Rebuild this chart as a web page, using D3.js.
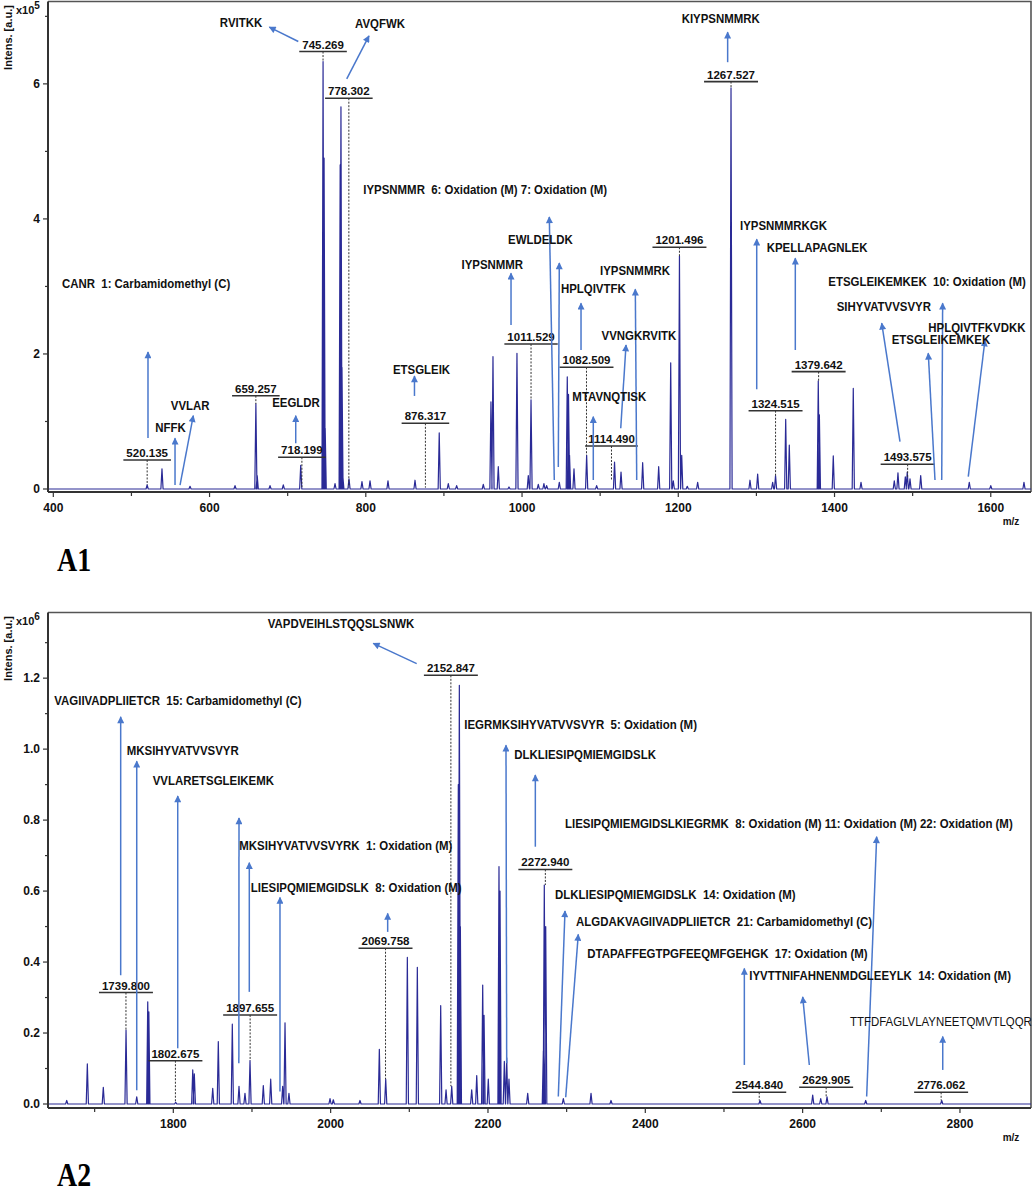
<!DOCTYPE html>
<html><head><meta charset="utf-8">
<script src="https://cdn.jsdelivr.net/npm/d3@7"></script>
<style>
body{margin:0;background:#fff}
svg text{font-family:"Liberation Sans",Arial,sans-serif}
svg text.letter{font-family:"Liberation Serif","Times New Roman",serif}
.ann{white-space:pre}
</style>
</head><body>
<svg id="c" width="1034" height="1194"></svg>
<script>
// ---------------- DATA: panel A1 (intensity x10^5) ----------------
const peaksA1 = [[520.1,0.06],[539.1,0.30],[575,0.04],[632.6,0.05],[659.3,1.26],[661,0.2],[677.4,0.05],[694.4,0.06],[716.7,0.35],[745.3,6.33],[746.6,4.9],[748,0.9],[760.6,0.08],[767.2,4.8],[768.2,5.66],[769.5,1.8],[770.6,0.19],[778.5,0.15],[795.1,0.11],[805.4,0.12],[828.4,0.12],[863,0.13],[894,0.83],[905.6,0.08],[916.3,0.05],[950.4,0.07],[960.2,1.29],[962.8,1.96],[969.6,0.33],[983.3,0.03],[993.5,2.01],[1008,0.2],[1011.5,1.32],[1020.8,0.07],[1028,0.08],[1031.5,0.05],[1047.7,0.1],[1057.9,1.66],[1059.5,1.4],[1060.8,0.5],[1066.5,0.3],[1082.7,0.5],[1095.5,0.05],[1118.4,0.4],[1126.7,0.25],[1154.4,0.39],[1174.9,0.33],[1190.3,1.87],[1193.6,0.12],[1201.5,3.45],[1204.4,0.5],[1211.5,0.04],[1224.8,0.1],[1267.5,5.94],[1291.8,0.13],[1301.6,0.22],[1320.8,0.1],[1324.5,0.2],[1337.5,1.03],[1342.1,0.65],[1379.2,1.6],[1380.6,1.1],[1398.4,0.49],[1424,1.49],[1433.9,0.1],[1476.5,0.12],[1481.2,0.24],[1490.6,0.18],[1493.1,0.25],[1496.6,0.15],[1510.3,0.2],[1572.5,0.1],[1600,0.05],[1642.5,0.1]];
// [text, m/z, bar intensity, peak intensity]
const massLabelsA1 = [["520.135",520.135,0.43,0.06],["659.257",659.257,1.382,1.26],["718.199",718.199,0.47,0.03],["745.269",745.269,6.479,6.33],["778.302",778.302,5.788,0.02],["876.317",876.317,0.973,0.02],["1011.529",1011.529,2.148,1.32],["1082.509",1082.509,1.803,0.5],["1114.490",1114.490,0.637,0.13],["1201.496",1201.496,3.581,3.45],["1267.527",1267.527,6.034,5.94],["1324.515",1324.515,1.16,0.2],["1379.642",1379.642,1.738,1.6],["1493.575",1493.575,0.366,0.18]];
// [peptide text, m/z, intensity, anchor]
const peptidesA1 = [["CANR  1: Carbamidomethyl (C)",518.7,3.05,"middle"],["NFFK",550,0.908,"middle"],["VVLAR",575.2,1.234,"middle"],["EEGLDR",710.7,1.284,"middle"],["RVITKK",640.3,6.908,"middle"],["AVQFWK",818.2,6.889,"middle"],["IYPSNMMR  6: Oxidation (M) 7: Oxidation (M)",796.8,4.43,"start"],["ETSGLEIK",871.3,1.778,"middle"],["IYPSNMMR",961.9,3.319,"middle"],["EWLDELDK",1023.6,3.689,"middle"],["HPLQIVTFK",1091.2,2.973,"middle"],["IYPSNMMRK",1144.6,3.244,"middle"],["VVNGKRVITK",1149.7,2.281,"middle"],["MTAVNQTISK",1111.7,1.367,"middle"],["KIYPSNMMRK",1254.3,6.963,"middle"],["IYPSNMMRKGK",1279,3.907,"start"],["KPELLAPAGNLEK",1313.2,3.581,"start"],["ETSGLEIKEMKEK  10: Oxidation (M)",1392,3.081,"start"],["SIHYVATVVSVYR",1402.8,2.711,"start"],["HPLQIVTFKVDKK",1520,2.396,"start"],["ETSGLEIKEMKEK",1473.2,2.218,"start"]];
// [tail m/z, tail I, head m/z, head I]
const arrowsA1 = [[521.2,0.756,521.2,2.03],[555.8,0.059,555.8,0.751],[562.2,0.059,579.2,1.086],[710.3,0.677,710.3,1.086],[713.6,6.627,676.5,6.84],[775.6,6.074,804.1,6.711],[1041.3,0.133,1034.9,4.03],[862.3,1.378,862.3,1.674],[985.9,2.43,985.9,3.196],[1046.4,0.326,1047.7,3.348],[1075.5,2.059,1075.5,2.751],[1146.8,0.133,1145,2.959],[1126.3,0.899,1133.1,2.133],[1091.2,0.133,1091.2,1.071],[1263.2,6.321,1263.2,6.766],[1300.4,1.477,1300.4,3.699],[1349.8,2.059,1349.8,3.418],[1537.2,0.133,1538.4,2.751],[1483.8,0.701,1460.4,2.455],[1571.2,0.182,1592.6,2.207],[1528.6,0.133,1520,2.01]];
const xTicksA1 = [400,600,800,1000,1200,1400,1600];
const xMinorA1 = [500,700,900,1100,1300,1500];
const yTicksA1 = [0,2,4,6];
const yMinorA1 = [1,3,5,7];

// ---------------- DATA: panel A2 (intensity x10^6) ----------------
const peaksA2 = [[1664.5,0.01],[1690.7,0.113],[1711,0.047],[1739.9,0.208],[1753.5,0.02],[1767.5,0.288],[1768.9,0.26],[1803,0.005],[1824.7,0.096],[1826.7,0.085],[1850.1,0.044],[1857.2,0.176],[1875,0.225],[1883.5,0.05],[1891.1,0.03],[1897.5,0.122],[1914.4,0.052],[1923.8,0.07],[1939,0.05],[1942,0.229],[1947,0.03],[1999.2,0.015],[2003.4,0.012],[2037.3,0.01],[2061.9,0.154],[2070,0.07],[2097.5,0.413],[2110.2,0.385],[2139.9,0.277],[2146.7,0.04],[2153.9,0.05],[2162.3,0.9],[2163.6,1.18],[2164.9,0.5],[2179.3,0.04],[2185.7,0.08],[2193.3,0.335],[2195,0.25],[2200.4,0.07],[2214,0.669],[2215.3,0.6],[2220.8,0.12],[2223.8,0.13],[2226.7,0.07],[2250.5,0.03],[2270.4,0.15],[2271.6,0.617],[2273.4,0.5],[2295.8,0.015],[2331,0.03],[2356.4,0.01],[2545.8,0.01],[2612.8,0.025],[2623,0.015],[2631,0.02],[2680.2,0.01],[2776.8,0.01]];
const massLabelsA2 = [["1739.800",1739.8,0.314,0.208],["1802.675",1802.675,0.122,0.005],["1897.655",1897.655,0.251,0.122],["2069.758",2069.758,0.439,0.07],["2152.847",2152.847,1.208,0.05],["2272.940",2272.94,0.661,0.617],["2544.840",2544.84,0.033,0.01],["2629.905",2629.905,0.047,0.02],["2776.062",2776.062,0.033,0.01]];
const peptidesA2 = [["VAPDVEIHLSTQQSLSNWK",2013.2,1.354,"middle"],["VAGIIVADPLIIETCR  15: Carbamidomethyl (C)",1648.7,1.138,"start"],["MKSIHYVATVVSVYR",1740.8,0.997,"start"],["VVLARETSGLEIKEMK",1773.8,0.913,"start"],["MKSIHYVATVVSVYRK  1: Oxidation (M)",1883.9,0.728,"start"],["LIESIPQMIEMGIDSLK  8: Oxidation (M)",1898.4,0.609,"start"],["IEGRMKSIHYVATVVSVYR  5: Oxidation (M)",2169.9,1.07,"start"],["DLKLIESIPQMIEMGIDSLK",2233.5,0.986,"start"],["LIESIPQMIEMGIDSLKIEGRMK  8: Oxidation (M) 11: Oxidation (M) 22: Oxidation (M)",2297.9,0.791,"start"],["DLKLIESIPQMIEMGIDSLK  14: Oxidation (M)",2285.2,0.591,"start"],["ALGDAKVAGIIVADPLIIETCR  21: Carbamidomethyl (C)",2311.9,0.514,"start"],["DTAPAFFEGTPGFEEQMFGEHGK  17: Oxidation (M)",2326.3,0.425,"start"],["IYVTTNIFAHNENMDGLEEYLK  14: Oxidation (M)",2532.2,0.363,"start"],["TTFDFAGLVLAYNEETQMVTLQQR",2660.2,0.232,"start"]];
const arrowsA2 = [[2109.4,1.241,2054.2,1.298],[1733.1,0.363,1733.1,1.091],[1753.5,0.039,1753.5,0.966],[1805.6,0.157,1805.6,0.868],[1883.3,0.115,1883.5,0.806],[1896.6,0.316,1896.6,0.68],[1935.6,0.035,1935.6,0.582],[2072.5,0.485,2072.5,0.537],[2223.8,0.115,2222.9,1.011],[2260.2,0.725,2260.2,0.927],[2681.4,0.021,2694.1,0.753],[2289.4,0.021,2297.9,0.544],[2298.8,0.019,2314.8,0.478],[2525.9,0.11,2525.9,0.382],[2608.5,0.11,2600.1,0.302],[2778.1,0.096,2778.1,0.19]];
const xTicksA2 = [1800,2000,2200,2400,2600,2800];
const xMinorA2 = [1700,1900,2100,2300,2500,2700];
const yTicksA2 = [0,0.2,0.4,0.6,0.8,1.0,1.2];
const yMinorA2 = [0.1,0.3,0.5,0.7,0.9,1.1,1.3];
const lightLabels = ["TTFDFAGLVLAYNEETQMVTLQQR"];

// ---------------- DRAWING ----------------
const svg = d3.select("#c");
const defs = svg.append("defs");
defs.append("marker").attr("id","ah").attr("viewBox","0 0 10 10")
  .attr("refX",9).attr("refY",5).attr("markerWidth",8).attr("markerHeight",7)
  .attr("markerUnits","userSpaceOnUse").attr("orient","auto")
  .append("path").attr("d","M0,0 L10,5 L0,10 Z").attr("fill","#4a78cc");

const LINE = "#2a2a96", ARROW = "#4a78cc";

function panel(cfg) {
  const x = d3.scaleLinear().domain(cfg.xDomain).range([cfg.left, cfg.right]);
  const y = d3.scaleLinear().domain(cfg.yDomain).range([cfg.zeroY, cfg.top]);
  const g = svg.append("g");
  const cid = "clip" + cfg.id;
  defs.append("clipPath").attr("id", cid).append("rect")
    .attr("x", cfg.left).attr("y", cfg.top).attr("width", cfg.right - cfg.left).attr("height", cfg.axisY - cfg.top);

  // frame top/right
  g.append("path").attr("d", `M${cfg.left},${cfg.top} H${cfg.right} V${cfg.axisY}`)
    .attr("fill","none").attr("stroke","#555").attr("stroke-width",1.6);

  // spectrum trace
  const w = 1.4;
  const pts = [[cfg.xDomain[0],0]];
  cfg.peaks.slice().sort((a,b)=>a[0]-b[0]).forEach(p => { pts.push([p[0]-w,0],[p[0],p[1]],[p[0]+w,0]); });
  pts.push([cfg.xDomain[1],0]);
  g.append("path").attr("clip-path",`url(#${cid})`)
    .attr("d", d3.line().x(d=>x(d[0])).y(d=>y(d[1]))(pts))
    .attr("fill","none").attr("stroke",LINE).attr("stroke-width",1.2).attr("stroke-linejoin","round");

  // mass labels with bar and dotted line
  cfg.massLabels.forEach(m => {
    const cx = x(m[1]), by = y(m[2]);
    g.append("line").attr("x1",cx).attr("x2",cx).attr("y1",by).attr("y2",y(m[3]))
      .attr("stroke","#333").attr("stroke-width",1).attr("stroke-dasharray","2,1.5");
    const t = g.append("text").attr("x",cx).attr("y",by-3).attr("text-anchor","middle")
      .attr("font-size",11.5).attr("font-weight","bold").attr("fill","#111").text(m[0]);
    const tw = t.node().getComputedTextLength();
    g.append("line").attr("x1",cx-tw/2-3).attr("x2",cx+tw/2+3).attr("y1",by).attr("y2",by)
      .attr("stroke","#333").attr("stroke-width",1.6);
  });

  // arrows
  cfg.arrows.forEach(a => {
    g.append("line").attr("x1",x(a[0])).attr("y1",y(a[1])).attr("x2",x(a[2])).attr("y2",y(a[3]))
      .attr("stroke",ARROW).attr("stroke-width",1.5).attr("marker-end","url(#ah)");
  });

  // peptide annotations
  cfg.peptides.forEach(p => {
    g.append("text").attr("class","ann")
      .attr("transform",`translate(${x(p[1])},${y(p[2])}) scale(0.88,1)`)
      .attr("dy","0.35em").attr("text-anchor",p[3])
      .attr("font-size",13).attr("font-weight", lightLabels.includes(p[0]) ? "normal" : "bold")
      .attr("fill","#111").text(p[0]);
  });

  // axes
  g.append("line").attr("x1",cfg.left).attr("x2",cfg.right).attr("y1",cfg.axisY).attr("y2",cfg.axisY)
    .attr("stroke","#333").attr("stroke-width",2);
  g.append("line").attr("x1",cfg.left).attr("x2",cfg.left).attr("y1",cfg.top).attr("y2",cfg.axisY)
    .attr("stroke","#333").attr("stroke-width",2);
  cfg.xTicks.forEach(v => {
    g.append("line").attr("x1",x(v)).attr("x2",x(v)).attr("y1",cfg.axisY).attr("y2",cfg.axisY+5).attr("stroke","#333").attr("stroke-width",1.2);
    g.append("text").attr("x",x(v)).attr("y",cfg.axisY+20).attr("text-anchor","middle")
      .attr("font-size",12).attr("font-weight","bold").attr("fill","#111").text(v);
  });
  cfg.xMinor.forEach(v => {
    g.append("line").attr("x1",x(v)).attr("x2",x(v)).attr("y1",cfg.axisY).attr("y2",cfg.axisY+4).attr("stroke","#333").attr("stroke-width",1.2);
  });
  cfg.yTicks.forEach(v => {
    g.append("line").attr("x1",cfg.left-5).attr("x2",cfg.left).attr("y1",y(v)).attr("y2",y(v)).attr("stroke","#333").attr("stroke-width",1.2);
    g.append("text").attr("x",cfg.left-8).attr("y",y(v)).attr("dy","0.36em").attr("text-anchor","end")
      .attr("font-size",12).attr("font-weight","bold").attr("fill","#111").text(cfg.yFmt(v));
  });
  cfg.yMinor.forEach(v => {
    g.append("line").attr("x1",cfg.left-3).attr("x2",cfg.left).attr("y1",y(v)).attr("y2",y(v)).attr("stroke","#333").attr("stroke-width",1.2);
  });

  // axis titles
  g.append("text").attr("transform",`translate(12,${cfg.top+36}) rotate(-90)`).attr("text-anchor","middle")
    .attr("font-size",11).attr("font-weight","bold").attr("fill","#111").text("Intens. [a.u.]");
  const ex = g.append("text").attr("x",16).attr("y",cfg.top+12).attr("font-size",11).attr("font-weight","bold").attr("fill","#111");
  ex.append("tspan").text("x10");
  ex.append("tspan").attr("dy",-5).attr("font-size",10).text(cfg.exp);
  g.append("text").attr("x",cfg.right-20).attr("y",cfg.axisY+33).attr("text-anchor","middle")
    .attr("font-size",10).attr("font-weight","bold").attr("fill","#111").text("m/z");

  // panel letter
  g.append("text").attr("class","letter").attr("transform",`translate(57,${cfg.letterY}) scale(0.9,1.1)`)
    .attr("font-size",31).attr("font-weight","bold")
    .attr("fill","#000").text(cfg.letter);
}

panel({id:"A1", left:48, right:1031, top:1.5, zeroY:489, axisY:492,
  xDomain:[393.2,1651.5], yDomain:[0,7.22],
  peaks:peaksA1, massLabels:massLabelsA1, peptides:peptidesA1, arrows:arrowsA1,
  xTicks:xTicksA1, xMinor:xMinorA1, yTicks:yTicksA1, yMinor:yMinorA1,
  yFmt:d3.format("d"), exp:"5", letter:"A1", letterY:571});

panel({id:"A2", left:48, right:1031, top:612.5, zeroY:1104, axisY:1108,
  xDomain:[1640.7,2890.3], yDomain:[0,1.385],
  peaks:peaksA2, massLabels:massLabelsA2, peptides:peptidesA2, arrows:arrowsA2,
  xTicks:xTicksA2, xMinor:xMinorA2, yTicks:yTicksA2, yMinor:yMinorA2,
  yFmt:d3.format(".1f"), exp:"6", letter:"A2", letterY:1186});
</script>
</body></html>
